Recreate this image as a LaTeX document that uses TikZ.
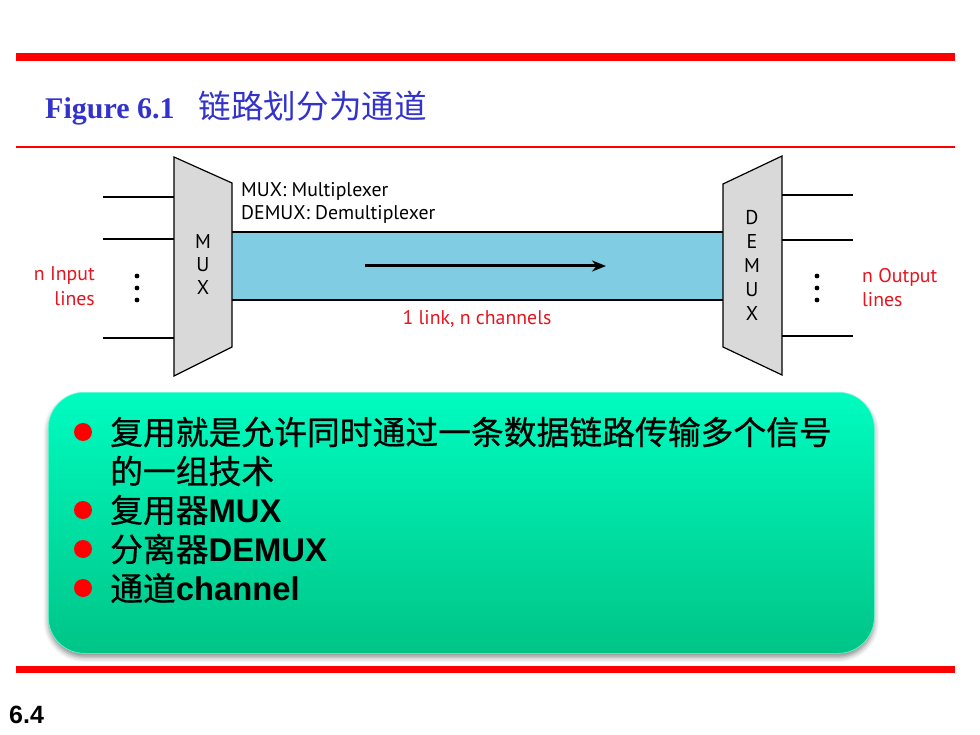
\documentclass[tikz,border=0pt]{standalone}
\usepackage{fontspec}
\usetikzlibrary{arrows.meta,shadows.blur}
\newfontfamily\cjk{Noto Sans CJK SC}
\newfontfamily\cjkh{Noto Sans CJK SC}[FakeBold=0.6]
\newfontfamily\timesf{Liberation Serif}
\newfontfamily\arialf{Liberation Sans}
\newfontfamily\myr{PT Sans}
\definecolor{redline}{RGB}{255,0,0}
\definecolor{titleblue}{RGB}{51,51,204}
\definecolor{linkblue}{RGB}{127,204,227}
\definecolor{muxgrey}{RGB}{217,217,217}
\definecolor{labred}{RGB}{230,20,30}
\definecolor{greentop}{RGB}{0,252,192}
\definecolor{greenbot}{RGB}{0,196,135}
\begin{document}
\begin{tikzpicture}[x=1pt,y=-1pt,
  rule/.style={draw=redline},
  muxshape/.style={draw=black,fill=muxgrey,line width=1.2pt,line join=miter},
  iline/.style={draw=black,line width=1.8pt},
  dotc/.style={fill=black},
  diagtxt/.style={font=\myr\fontsize{19.8}{22}\selectfont,inner sep=0pt},
  redtxt/.style={diagtxt,text=labred},
  letter/.style={font=\myr\fontsize{20}{22}\selectfont,inner sep=0pt},
  bullettxt/.style={font=\cjkh\fontsize{32.8}{36}\selectfont,inner sep=0pt,anchor=west},
  bulletdot/.style={fill=redline}]
\useasboundingbox (0,0) rectangle (980,735);
% red rules
\draw[rule,line width=8pt] (16,57) -- (955,57);
\draw[rule,line width=2.5pt] (16,147) -- (955,147);
\draw[rule,line width=7pt] (16,669) -- (955,669);
% title
\node (title) [anchor=base west,inner sep=0pt,text=titleblue] at (45,119)
  {{\timesf\bfseries\fontsize{30}{32}\selectfont Figure 6.1}\hspace{24pt}{\cjk\mdseries\fontsize{32.6}{34}\selectfont 链路划分为通道}};
% link
\fill[linkblue] (232,232) rectangle (723,300);
\coordinate (lt1) at (232,232); \coordinate (lt2) at (723,232);
\coordinate (lb1) at (232,300); \coordinate (lb2) at (723,300);
\draw[line width=1.1pt] (lt1) -- (lt2);
\draw[line width=1.1pt] (lb1) -- (lb2);
% arrow
\coordinate (as) at (365,266); \coordinate (ae) at (606,266);
\draw[line width=3pt,-{Stealth[length=14pt,width=11pt]}] (as) -- (ae);
% MUX
\draw[muxshape] (174,157) -- (232,183) -- (232,347) -- (174,376) -- cycle;
\node (m1) [letter] at (203,242) {M};
\node (m2) [letter] at (203,265) {U};
\node (m3) [letter] at (203,288) {X};
% DEMUX
\draw[muxshape] (723,184) -- (782,156) -- (782,375) -- (723,347) -- cycle;
\node (d1) [letter] at (752,218) {D};
\node (d2) [letter] at (752,242) {E};
\node (d3) [letter] at (752,266) {M};
\node (d4) [letter] at (752,290) {U};
\node (d5) [letter] at (752,313) {X};
% input lines
\coordinate (i1a) at (103,197); \coordinate (i1b) at (174,197);
\coordinate (i2a) at (103,239); \coordinate (i2b) at (174,239);
\coordinate (i3a) at (103,338); \coordinate (i3b) at (174,338);
\draw[iline] (i1a) -- (i1b); \draw[iline] (i2a) -- (i2b); \draw[iline] (i3a) -- (i3b);
% output lines
\coordinate (o1a) at (782,195); \coordinate (o1b) at (853,195);
\coordinate (o2a) at (782,240); \coordinate (o2b) at (853,240);
\coordinate (o3a) at (782,336); \coordinate (o3b) at (853,336);
\draw[iline] (o1a) -- (o1b); \draw[iline] (o2a) -- (o2b); \draw[iline] (o3a) -- (o3b);
% dots
\foreach \yy in {276,288,300} {\fill[dotc] (137,\yy) circle (2.4); \fill[dotc] (817,\yy) circle (2.4);}
% labels
\node (lmux) [diagtxt,anchor=west] at (241,191) {MUX: Multiplexer};
\node (ldemux) [diagtxt,anchor=west] at (241,214) {DEMUX: Demultiplexer};
\node (llink) [redtxt] at (477,319) {1 link, n channels};
\node (lin1) [redtxt,anchor=east] at (95,276) {n Input};
\node (lin2) [redtxt,anchor=east] at (95,299) {lines};
\node (lout1) [redtxt,anchor=west] at (862,277) {n Output};
\node (lout2) [redtxt,anchor=west] at (862,300) {lines};
% green box
\node (box) [anchor=north west,minimum width=826pt,minimum height=261pt,inner sep=0pt,
  rounded corners=36pt,top color=greentop,bottom color=greenbot,draw=greentop!60!white,line width=0.6pt,
  blur shadow={shadow xshift=0pt,shadow yshift=-4pt,shadow blur radius=5pt,shadow opacity=45}] at (48,392) {};
% bullets
\foreach \yy in {432,510,549,588} {\fill[bulletdot] (83,\yy) circle (9);}
\node (b1) [bullettxt] at (110,432) {复用就是允许同时通过一条数据链路传输多个信号};
\node (b1b) [bullettxt] at (110,471) {的一组技术};
\node (b2) [bullettxt] at (110,510) {复用器{\arialf\bfseries MUX}};
\node (b3) [bullettxt] at (110,549) {分离器{\arialf\bfseries DEMUX}};
\node (b4) [bullettxt] at (110,588) {通道{\arialf\bfseries channel}};
% page number
\node (pg) [anchor=west,inner sep=0pt,font=\arialf\bfseries\fontsize{25}{27}\selectfont] at (9,715) {6.4};
\end{tikzpicture}
\end{document}
